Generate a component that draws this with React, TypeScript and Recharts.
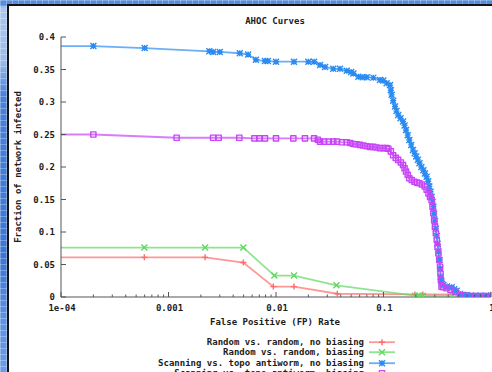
import React from "react";
import { LineChart, Line, XAxis, YAxis, Legend } from "recharts";

type Pt = [number, number];

const X_MAJOR = [1e-4, 1e-3, 1e-2, 1e-1, 1];
const X_LABELS = ["1e-04", "0.001", "0.01", "0.1", "1"];
const X_MINOR = [
  2e-4, 3e-4, 4e-4, 5e-4, 6e-4, 7e-4, 8e-4, 9e-4,
  2e-3, 3e-3, 4e-3, 5e-3, 6e-3, 7e-3, 8e-3, 9e-3,
  0.02, 0.03, 0.04, 0.05, 0.06, 0.07, 0.08, 0.09,
  0.2, 0.3, 0.4, 0.5, 0.6, 0.7, 0.8, 0.9,
];
const Y_TICKS = [0, 0.05, 0.1, 0.15, 0.2, 0.25, 0.3, 0.35, 0.4];
const Y_LABELS = ["0", "0.05", "0.1", "0.15", "0.2", "0.25", "0.3", "0.35", "0.4"];

const NAMES = [
  "Random vs. random, no biasing",
  "Random vs. random, biasing",
  "Scanning vs. topo antiworm, no biasing",
  "Scanning vs. topo antiworm, biasing",
];
const COLORS = ["#ff6b6b", "#5fd85f", "#2a8cf2", "#c845f7"];
const MARKS = ["plus", "cross", "star", "square"];

// (FP rate, fraction infected)
const RANDOM_NO_BIAS: Pt[] = [
  [1e-4, 0.061], [5.96e-4, 0.061], [2.19e-3, 0.061], [4.97e-3, 0.053],
  [9.44e-3, 0.016], [0.0147, 0.016], [0.0372, 0.005], [0.196, 0.004],
  [0.232, 0.004], [0.44, 0.004], [1, 0.004],
];
const RANDOM_BIAS: Pt[] = [
  [1e-4, 0.076], [5.96e-4, 0.076], [2.19e-3, 0.076], [4.97e-3, 0.076],
  [9.66e-3, 0.033], [0.0147, 0.033], [0.0365, 0.018], [0.196, 0.002],
  [0.215, 0.002], [0.232, 0.002], [0.44, 0.002], [1, 0.002],
];
const SCAN_NO_BIAS: Pt[] = [
  [1e-4, 0.386], [2.0e-4, 0.386], [6.0e-4, 0.383], [2.4e-3, 0.378], [2.6e-3, 0.377],
  [3.0e-3, 0.377], [4.6e-3, 0.375], [5.5e-3, 0.373], [6.5e-3, 0.365], [7.9e-3, 0.363],
  [8.4e-3, 0.363], [0.01, 0.362], [0.0147, 0.362], [0.02, 0.362], [0.0226, 0.362],
  [0.0257, 0.357], [0.0286, 0.354], [0.0341, 0.351], [0.0394, 0.351], [0.0455, 0.348],
  [0.05, 0.346], [0.0525, 0.344], [0.0584, 0.339], [0.064, 0.338], [0.0698, 0.338],
  [0.0805, 0.3375], [0.0927, 0.334], [0.0995, 0.333], [0.107, 0.329], [0.115, 0.326],
  [0.117, 0.318], [0.119, 0.311], [0.123, 0.302], [0.128, 0.293], [0.132, 0.286],
  [0.137, 0.28], [0.144, 0.275], [0.152, 0.27], [0.157, 0.264], [0.162, 0.257],
  [0.168, 0.249], [0.174, 0.2415], [0.181, 0.234], [0.188, 0.226], [0.195, 0.221],
  [0.2015, 0.216], [0.209, 0.211], [0.216, 0.2057], [0.225, 0.2], [0.235, 0.195],
  [0.243, 0.19], [0.252, 0.185], [0.26, 0.178], [0.267, 0.17], [0.274, 0.162],
  [0.28, 0.154], [0.286, 0.146], [0.291, 0.139], [0.296, 0.128], [0.301, 0.117],
  [0.307, 0.105], [0.313, 0.094], [0.319, 0.082], [0.325, 0.07], [0.331, 0.057],
  [0.336, 0.044], [0.34, 0.031], [0.345, 0.024], [0.35, 0.02], [0.36, 0.0185],
  [0.39, 0.016], [0.431, 0.015], [0.455, 0.012], [0.48, 0.0097], [0.515, 0.0046],
  [0.55, 0.003], [0.594, 0.003], [0.65, 0.002], [0.72, 0.002], [0.8, 0.002],
  [0.9, 0.002], [1, 0.002],
];
const SCAN_BIAS: Pt[] = [
  [1e-4, 0.25], [2.0e-4, 0.25], [1.19e-3, 0.245], [2.6e-3, 0.245], [2.93e-3, 0.245],
  [4.56e-3, 0.245], [6.3e-3, 0.244], [7.0e-3, 0.244], [7.9e-3, 0.244], [0.01, 0.244],
  [0.0145, 0.244], [0.0186, 0.244], [0.0226, 0.244], [0.0245, 0.242], [0.0257, 0.239],
  [0.028, 0.239], [0.031, 0.239], [0.0341, 0.239], [0.037, 0.239], [0.041, 0.238],
  [0.0455, 0.238], [0.049, 0.237], [0.0525, 0.2354], [0.056, 0.235], [0.0604, 0.234],
  [0.065, 0.233], [0.0698, 0.232], [0.075, 0.231], [0.0805, 0.231], [0.086, 0.23],
  [0.0927, 0.229], [0.1, 0.229], [0.107, 0.229], [0.111, 0.228], [0.117, 0.224],
  [0.123, 0.218], [0.13, 0.214], [0.137, 0.211], [0.145, 0.207], [0.152, 0.203],
  [0.157, 0.198], [0.162, 0.193], [0.168, 0.188], [0.174, 0.1826], [0.183, 0.18],
  [0.194, 0.1774], [0.205, 0.176], [0.216, 0.175], [0.228, 0.173], [0.242, 0.17],
  [0.252, 0.165], [0.262, 0.1595], [0.271, 0.154], [0.28, 0.149], [0.286, 0.139],
  [0.291, 0.129], [0.296, 0.118], [0.301, 0.108], [0.307, 0.098], [0.313, 0.0877],
  [0.318, 0.077], [0.324, 0.067], [0.33, 0.057], [0.336, 0.0466], [0.339, 0.036],
  [0.342, 0.026], [0.347, 0.016], [0.36, 0.015], [0.386, 0.0134], [0.42, 0.011],
  [0.467, 0.008], [0.515, 0.003], [0.57, 0.002], [0.638, 0.0015], [0.71, 0.0015],
  [0.79, 0.0015], [0.88, 0.0015], [1, 0.0015],
];
const SERIES = [RANDOM_NO_BIAS, RANDOM_BIAS, SCAN_NO_BIAS, SCAN_BIAS];

const FONT = "'DejaVu Sans Mono', monospace";
const AXIS = "#555";
const TEXT = "#1c1c1c";

function markPath(kind: string, x: number, y: number, s: number) {
  switch (kind) {
    case "plus":
      return `M${x - s},${y}H${x + s}M${x},${y - s}V${y + s}`;
    case "cross":
      return `M${x - s},${y - s}L${x + s},${y + s}M${x - s},${y + s}L${x + s},${y - s}`;
    case "star":
      return `M${x - s},${y}H${x + s}M${x},${y - s}V${y + s}M${x - s},${y - s}L${x + s},${y + s}M${x - s},${y + s}L${x + s},${y - s}`;
    default:
      return `M${x - s},${y - s}H${x + s}V${y + s}H${x - s}Z`;
  }
}

function Marker({ cx, cy, kind, color }: { cx: number; cy: number; kind: string; color: string }) {
  const s = kind === "square" ? 2.6 : 3;
  return (
    <path d={markPath(kind, cx, cy, s)} stroke={color} strokeWidth={1.4} strokeLinejoin="round" fill="none" />
  );
}

const isMajor = (v: number) => X_MAJOR.indexOf(v) >= 0;

function XTick(props: any) {
  const { x, y, payload, side } = props;
  const v = payload.value;
  const len = isMajor(v) ? 5 : 2.5;
  const dir = side === "bottom" ? -1 : 1;
  return (
    <g>
      <line x1={x} x2={x} y1={y} y2={y + dir * len} stroke={AXIS} strokeWidth={1} />
      {side === "bottom" && isMajor(v) && (
        <text x={x + 1} y={y + 14} textAnchor="middle" fontFamily={FONT} fontWeight="bold" fontSize={9} fill={TEXT}>
          {X_LABELS[X_MAJOR.indexOf(v)]}
        </text>
      )}
    </g>
  );
}

function YTick(props: any) {
  const { x, y, payload, side } = props;
  const dir = side === "left" ? 1 : -1;
  const i = Y_TICKS.indexOf(payload.value);
  return (
    <g>
      <line x1={x} x2={x + dir * 5} y1={y} y2={y} stroke={AXIS} strokeWidth={1} />
      {side === "left" && (
        <text x={x - 6} y={y + 3} textAnchor="end" fontFamily={FONT} fontWeight="bold" fontSize={9} fill={TEXT}>
          {Y_LABELS[i]}
        </text>
      )}
    </g>
  );
}

function GnuLegend({ payload }: any) {
  const items = (payload || []).slice().sort(
    (a: any, b: any) => NAMES.indexOf(a.value) - NAMES.indexOf(b.value)
  );
  return (
    <div style={{ position: "relative", width: 492, height: 44 }}>
      {items.map((it: any, i: number) => {
        const k = NAMES.indexOf(it.value);
        return (
          <div key={it.value} style={{ position: "absolute", top: i * 10.3, left: 0, width: 492, height: 10.3 }}>
            <span
              style={{
                position: "absolute", right: 492 - 364, top: 0, lineHeight: "10.3px",
                fontFamily: FONT, fontWeight: "bold", fontSize: 9, color: TEXT, whiteSpace: "nowrap",
              }}
            >
              {it.value}
            </span>
            <svg style={{ position: "absolute", left: 368, top: 0 }} width={28} height={11}>
              <line x1={1} x2={27} y1={5.2} y2={5.2} stroke={it.color} strokeWidth={1.8} strokeOpacity={0.7} />
              <Marker cx={14} cy={5.2} kind={MARKS[k]} color={it.color} />
            </svg>
          </div>
        );
      })}
    </div>
  );
}

const textStyle: React.CSSProperties = {
  position: "absolute", fontFamily: FONT, fontWeight: "bold", fontSize: 9, color: TEXT,
  whiteSpace: "nowrap", lineHeight: "10px",
};

export default function App() {
  return (
    <div
      style={{
        position: "fixed", left: 0, top: 0, width: 492, height: 372, overflow: "hidden",
        background:
          "linear-gradient(to bottom, #4f88de 0px, #5a90e2 5px, #a9c7f0 8px, #9cbdec 60px, #4a82da 95px, #3c77d4 260px, #5d93e2 320px, #6a9ce6 372px)",
      }}
    >
      <div
        style={{
          position: "absolute", inset: 0,
          backgroundImage:
            "repeating-linear-gradient(to right, rgba(255,255,255,0.28) 0 1px, transparent 1px 6px), repeating-linear-gradient(to bottom, rgba(255,255,255,0.28) 0 1px, transparent 1px 6px)",
        }}
      />
      <div
        style={{
          position: "absolute", left: 7, top: 4, right: 0, bottom: 0, background: "#fff",
          borderLeft: "2px solid #141414", borderTop: "2px solid #141414",
        }}
      />
      <div style={{ position: "absolute", left: 0, top: 0 }}>
        <LineChart width={492} height={372} margin={{ top: 37, right: 1, left: 8, bottom: 55 }}>
          <XAxis
            dataKey="x" type="number" scale="log" domain={[1e-4, 1]} allowDataOverflow
            ticks={[...X_MAJOR, ...X_MINOR]} interval={0} height={20}
            tickSize={0} tickMargin={0} tickLine={false}
            axisLine={{ stroke: AXIS }} tick={<XTick side="bottom" />}
          />
          <XAxis
            xAxisId="top" orientation="top" type="number" scale="log" domain={[1e-4, 1]} allowDataOverflow
            ticks={[...X_MAJOR, ...X_MINOR]} interval={0} height={0}
            tickSize={0} tickMargin={0} tickLine={false}
            axisLine={{ stroke: AXIS }} tick={<XTick side="top" />}
          />
          <YAxis
            type="number" domain={[0, 0.4]} allowDataOverflow ticks={Y_TICKS} interval={0} width={53}
            tickSize={0} tickMargin={0} tickLine={false}
            axisLine={{ stroke: AXIS }} tick={<YTick side="left" />}
          />
          <YAxis
            yAxisId="right" orientation="right" type="number" domain={[0, 0.4]} allowDataOverflow
            ticks={Y_TICKS} interval={0} width={0}
            tickSize={0} tickMargin={0} tickLine={false}
            axisLine={{ stroke: AXIS }} tick={<YTick side="right" />}
          />
          <Legend
            layout="vertical" align="center" verticalAlign="middle"
            wrapperStyle={{ left: 0, top: 337, width: 492, height: 44 }}
            content={<GnuLegend />}
          />
          {SERIES.map((pts, k) => (
            <Line
              key={NAMES[k]}
              name={NAMES[k]}
              data={pts.map(([x, y]) => ({ x, y }))}
              dataKey="y"
              type="linear"
              stroke={COLORS[k]}
              strokeWidth={1.8}
              strokeOpacity={0.7}
              activeDot={false}
              isAnimationActive={false}
              dot={(p: any) =>
                p.index === 0 ? (
                  <g key={`d${k}-${p.index}`} />
                ) : (
                  <Marker key={`d${k}-${p.index}`} cx={p.cx} cy={p.cy} kind={MARKS[k]} color={COLORS[k]} />
                )
              }
            />
          ))}
        </LineChart>
      </div>
      <div style={{ ...textStyle, left: 275, top: 16, transform: "translateX(-50%)" }}>AHOC Curves</div>
      <div style={{ ...textStyle, left: 275, top: 317, transform: "translateX(-50%)" }}>False Positive (FP) Rate</div>
      <div style={{ ...textStyle, left: 18, top: 167, transform: "translate(-50%, -50%) rotate(-90deg)" }}>
        Fraction of network infected
      </div>
    </div>
  );
}
